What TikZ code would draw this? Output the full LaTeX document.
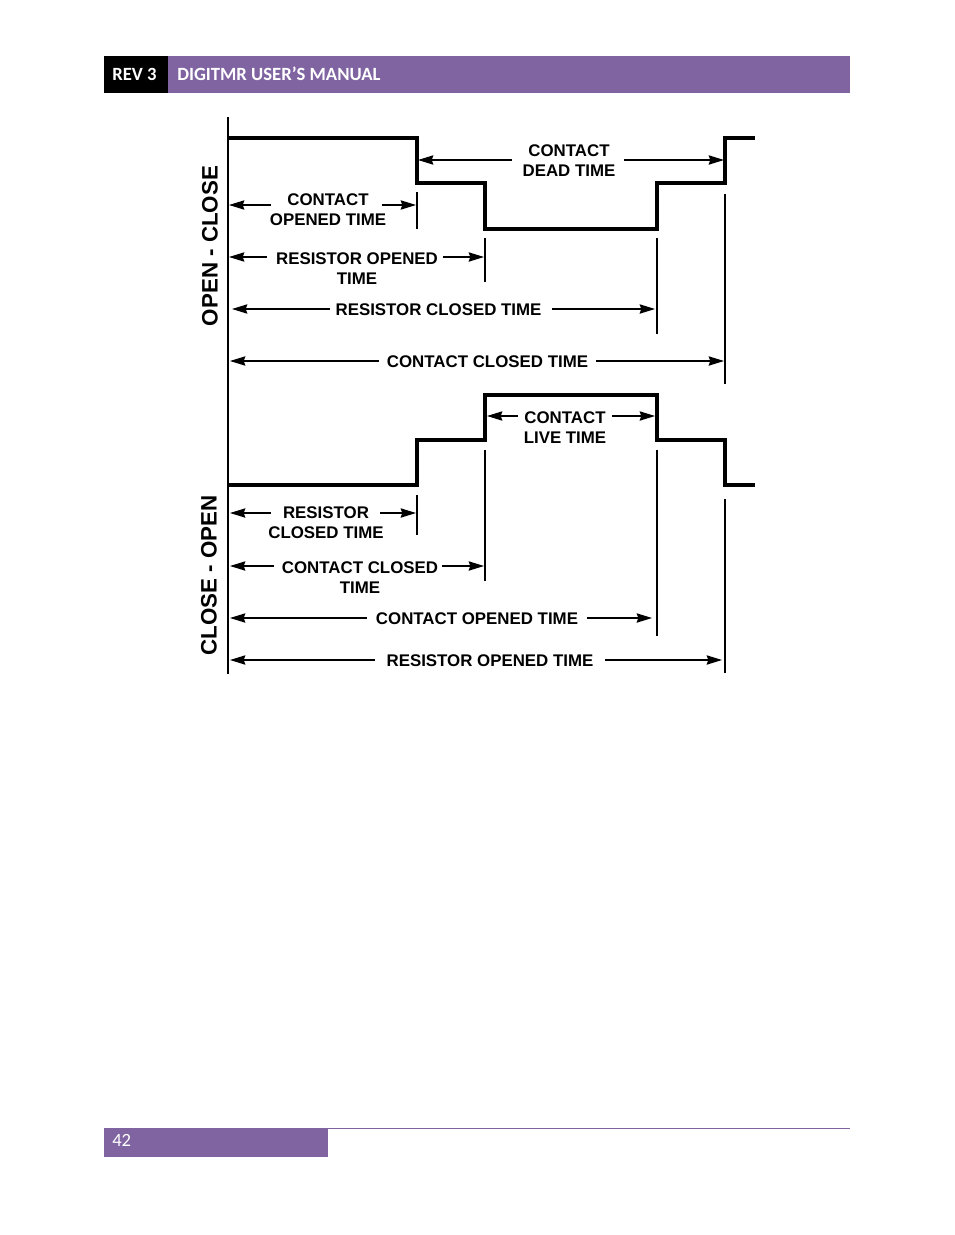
\documentclass[tikz,border=0pt]{standalone}
\usepackage{fontspec}
\setmainfont{Liberation Sans}
\newfontfamily\carlito{Carlito}
\usetikzlibrary{arrows.meta}
\definecolor{headpurple}{HTML}{8064A2}
\tikzset{
  wave/.style={line width=2.7pt,miter limit=10},
  axis/.style={line width=1.5pt},
  tick/.style={line width=1.5pt},
  dim/.style={line width=1.05pt,-{Stealth[length=11.5pt,width=7pt,inset=1.2pt]}},
  lab/.style={font=\fontsize{12.65}{15}\selectfont\bfseries,align=center,inner sep=0pt,text=black},
  side/.style={font=\fontsize{16.75}{18}\selectfont\bfseries,inner sep=0pt,rotate=90},
  head/.style={font=\carlito\fontsize{14}{16}\selectfont\bfseries,text=white,inner sep=0pt},
}
\begin{document}
\begin{tikzpicture}[x=0.75pt,y=-0.75pt]
\useasboundingbox (0,0) rectangle (954,1235);
\fill[white] (0,0) rectangle (954,1235);
% header and footer
\fill[black] (104,56) rectangle (168,93);
\fill[headpurple] (168,56) rectangle (850,93);
\node[head,anchor=west] (rev) at (112,74) {REV 3};
\node[head,anchor=west] (title) at (177,74) {DIGITMR USER’S MANUAL};
\fill[headpurple] (104,1128.5) rectangle (328,1157);
\draw[headpurple,line width=0.8pt] (104,1128.7) -- (850,1128.7);
\node[anchor=west,inner sep=0pt,text=white,font=\carlito\fontsize{14}{16}\selectfont] (page) at (112,1140) {42};
% axis
\coordinate (axT) at (228,117); \coordinate (axB) at (228,674);
\draw[axis] (axT) -- (axB);
% waves
\draw[wave] (228,138) -- (417,138) -- (417,183) -- (485,183) -- (485,229) -- (657,229) -- (657,183) -- (725,183) -- (725,138) -- (755,138);
\draw[wave] (228,485) -- (417,485) -- (417,440) -- (485,440) -- (485,395) -- (657,395) -- (657,440) -- (725,440) -- (725,485) -- (755,485);
% ticks
\draw[tick] (417,192) -- (417,229);
\draw[tick] (485,238) -- (485,282);
\draw[tick] (657,238) -- (657,334);
\draw[tick] (725,194) -- (725,384);
\draw[tick] (417,495) -- (417,535);
\draw[tick] (485,450) -- (485,581);
\draw[tick] (657,450) -- (657,636);
\draw[tick] (725,499) -- (725,673);
% side labels
\node[side] (oc) at (210,246) {OPEN - CLOSE};
\node[side] (co) at (209,575.5) {CLOSE - OPEN};
% labels
\node[lab] (dead) at (569,160.5) {CONTACT\\DEAD TIME};
\node[lab] (copen) at (328,209.5) {CONTACT\\OPENED TIME};
\node[lab] (ropen) at (357,268.5) {RESISTOR OPENED\\TIME};
\node[lab] (rclose) at (438.5,309.5) {RESISTOR CLOSED TIME};
\node[lab] (cclose) at (487.5,361.5) {CONTACT CLOSED TIME};
\node[lab] (live) at (565,427.5) {CONTACT\\LIVE TIME};
\node[lab] (rclose2) at (326,522.5) {RESISTOR\\CLOSED TIME};
\node[lab] (cclose2) at (360,577.5) {CONTACT CLOSED\\TIME};
\node[lab] (copen2) at (477,618.5) {CONTACT OPENED TIME};
\node[lab] (ropen2) at (490,660.5) {RESISTOR OPENED TIME};
% dimension end points
\coordinate (d1a) at (512,160); \coordinate (d1b) at (418,160);
\coordinate (d1c) at (624,160); \coordinate (d1d) at (724,160);
\coordinate (d2a) at (271,205); \coordinate (d2b) at (229,205);
\coordinate (d2c) at (382,205); \coordinate (d2d) at (416,205);
\coordinate (d3a) at (267,257); \coordinate (d3b) at (229,257);
\coordinate (d3c) at (443,257); \coordinate (d3d) at (484,257);
\coordinate (d4a) at (330,309); \coordinate (d4b) at (232,309);
\coordinate (d4c) at (552,309); \coordinate (d4d) at (655,309);
\coordinate (d5a) at (379,361); \coordinate (d5b) at (230,361);
\coordinate (d5c) at (596,361); \coordinate (d5d) at (724,361);
\coordinate (d6a) at (518,416); \coordinate (d6b) at (487,416);
\coordinate (d6c) at (612,416); \coordinate (d6d) at (655,416);
\coordinate (d7a) at (271,513); \coordinate (d7b) at (230,513);
\coordinate (d7c) at (380,513); \coordinate (d7d) at (416,513);
\coordinate (d8a) at (274,566); \coordinate (d8b) at (230,566);
\coordinate (d8c) at (442,566); \coordinate (d8d) at (484,566);
\coordinate (d9a) at (367,618); \coordinate (d9b) at (230,618);
\coordinate (d9c) at (587,618); \coordinate (d9d) at (652,618);
\coordinate (d10a) at (375,660); \coordinate (d10b) at (230,660);
\coordinate (d10c) at (605,660); \coordinate (d10d) at (722,660);
\foreach \i in {1,...,10}{
  \draw[dim] (d\i a) -- (d\i b);
  \draw[dim] (d\i c) -- (d\i d);
}
\end{tikzpicture}
\end{document}
